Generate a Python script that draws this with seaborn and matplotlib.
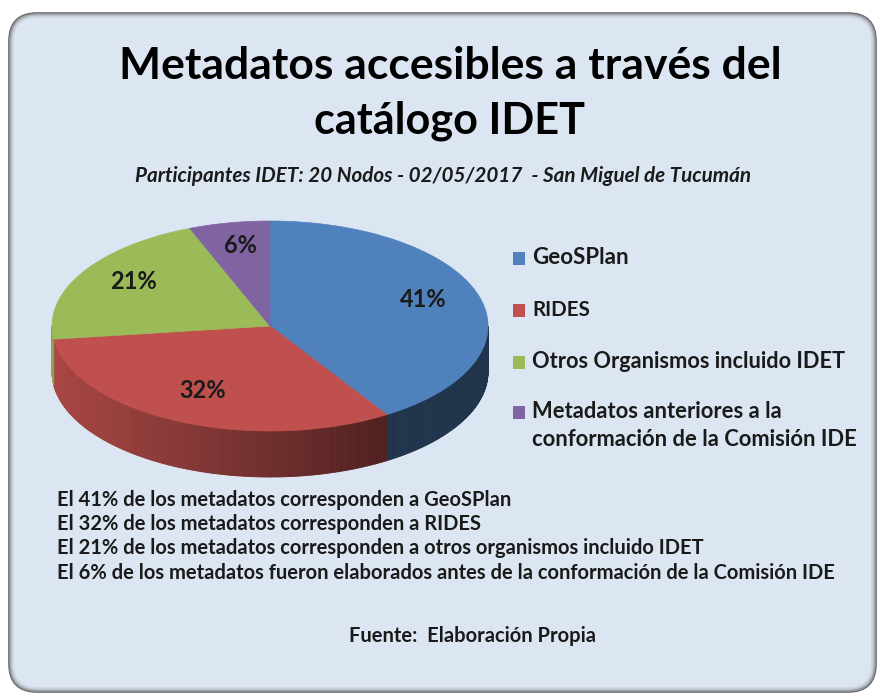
import numpy as np
import matplotlib
matplotlib.use("Agg")
import matplotlib.pyplot as plt
import seaborn as sns
from matplotlib.patches import Polygon, Rectangle, FancyBboxPatch

# ---------------- data ----------------
categories = ["GeoSPlan", "RIDES", "Otros Organismos incluido IDET",
              "Metadatos anteriores a la\nconformación de la Comisión IDE"]
values = [41, 32, 21, 6]
pct_labels = ["41%", "32%", "21%", "6%"]
colors_hex = ["#4f81bd", "#c0504d", "#9bbb59", "#8064a2"]
title_lines = ["Metadatos accesibles a través del", "catálogo IDET"]
subtitle = "Participantes IDET: 20 Nodos - 02/05/2017  - San Miguel de Tucumán"
notes = ["El 41% de los metadatos corresponden a GeoSPlan",
         "El 32% de los metadatos corresponden a RIDES",
         "El 21% de los metadatos corresponden a otros organismos incluido IDET",
         "El 6% de los metadatos fueron elaborados antes de la conformación de la Comisión IDE"]
source = "Fuente:  Elaboración Propia"

sns.set_theme(style="white")
plt.rcParams["font.family"] = ["Lato", "DejaVu Sans"]
palette = sns.color_palette(colors_hex)

W, H = 878, 695
fig = plt.figure(figsize=(W / 100, H / 100), dpi=100)
fig.patch.set_facecolor("white")
ax = fig.add_axes([0, 0, 1, 1])
ax.set_xlim(0, W)
ax.set_ylim(H, 0)
ax.axis("off")
renderer = fig.canvas.get_renderer()

# ---------------- frame ----------------
bx0, by0, bx1, by1 = 9, 13, 876, 692
ax.add_patch(FancyBboxPatch((bx0, by0), bx1 - bx0, by1 - by0,
                            boxstyle="round,pad=0,rounding_size=28",
                            facecolor="#dce6f2", edgecolor="none", zorder=0))
shades = ["#6a6a6a", "#8a8d92", "#a6abb3", "#bcc3cc", "#cdd5df"]
for i, c in enumerate(shades):
    ax.add_patch(FancyBboxPatch((bx0 + i, by0 + i), bx1 - bx0 - 2 * i, by1 - by0 - 2 * i,
                                boxstyle="round,pad=0,rounding_size=%f" % (28 - i),
                                facecolor="none", edgecolor=c, lw=1.2, zorder=1))

# ---------------- 3D pie ----------------
cx, cy, a, b, depth = 270, 326, 218, 105, 46
fr = np.array(values, dtype=float) / np.sum(values)
bounds = np.concatenate([[0], np.cumsum(fr)]) * 360.0  # clockwise from top


def pt(theta_deg, dy=0.0, r=1.0):
    t = np.radians(theta_deg)
    return cx + r * a * np.sin(t), cy - r * b * np.cos(t) + dy


def shade(rgb, f):
    return tuple(np.clip(np.array(rgb) * f, 0, 1))


# sides (front half 90..270 degrees)
step = 0.5
for i in range(len(values)):
    t0, t1 = max(bounds[i], 90), min(bounds[i + 1], 270)
    if t1 <= t0:
        continue
    ts = np.arange(t0, t1, step)
    ts = np.append(ts, t1)
    for k in range(len(ts) - 1):
        p1, p2 = pt(ts[k]), pt(ts[k + 1])
        xm = (p1[0] + p2[0]) / 2
        f = max(0.40, 0.88 - 0.48 * (xm - (cx - a)) / 345.0)
        col = shade(palette[i], f)
        poly = [p1, p2, (p2[0], p2[1] + depth), (p1[0], p1[1] + depth)]
        ax.add_patch(Polygon(poly, closed=True, facecolor=col, edgecolor=col,
                             lw=0.6, zorder=2))

# top faces
for i in range(len(values)):
    ts = np.linspace(bounds[i], bounds[i + 1], 200)
    xs, ys = pt(ts)
    poly = np.column_stack([np.r_[cx, xs], np.r_[cy, ys]])
    ax.add_patch(Polygon(poly, closed=True, facecolor=palette[i],
                         edgecolor=palette[i], lw=0.5, zorder=3))


def fit(s, x, y, w, ha="left", **kw):
    t = ax.text(x, y, s, ha=ha, va="center", fontsize=10, **kw)
    bb = t.get_window_extent(renderer)
    t.set_fontsize(10 * w / bb.width)
    return t


# pie labels
for i in range(len(values)):
    mid = (bounds[i] + bounds[i + 1]) / 2
    x, y = pt(mid, dy=-5, r=0.73)
    ax.text(x, y, pct_labels[i], ha="center", va="center", fontsize=17,
            fontweight="bold", color="#1a1a1a", zorder=5)

# ---------------- titles ----------------
fit(title_lines[0], 450, 66, 664, ha="center", fontweight="bold", color="black", zorder=5)
fit(title_lines[1], 450, 121, 270, ha="center", fontweight="bold", color="black", zorder=5)
fit(subtitle, 443, 176, 615, ha="center", fontweight="bold", style="italic",
    color="#1a1a1a", zorder=5)

# ---------------- legend ----------------
leg_y = [258, 310, 362, 412]
leg_w = [97, 58, 313, 325]
for i, lab in enumerate(categories):
    ax.add_patch(Rectangle((513, leg_y[i] - 6.5), 12.5, 13, facecolor=palette[i],
                           edgecolor="none", zorder=5))
    lines = lab.split("\n")
    if len(lines) == 1:
        fit(lines[0], 532, leg_y[i], leg_w[i], fontweight="bold", color="#1a1a1a", zorder=5)
    else:
        t = fit(lines[1], 532, leg_y[i] + 28, leg_w[i], fontweight="bold", color="#1a1a1a", zorder=5)
        ax.text(532, leg_y[i], lines[0], ha="left", va="center", fontsize=t.get_fontsize(),
                fontweight="bold", color="#1a1a1a", zorder=5)

# ---------------- notes ----------------
nt = fit(notes[3], 57, 573, 780, fontweight="bold", color="#1a1a1a", zorder=5)
for j, (s, y) in enumerate(zip(notes[:3], [500, 524, 548])):
    ax.text(57, y, s, ha="left", va="center", fontsize=nt.get_fontsize(),
            fontweight="bold", color="#1a1a1a", zorder=5)

fit(source, 473, 636, 247, ha="center", fontweight="bold", color="#1a1a1a", zorder=5)

fig.savefig("out.png", dpi=100, facecolor="white")
